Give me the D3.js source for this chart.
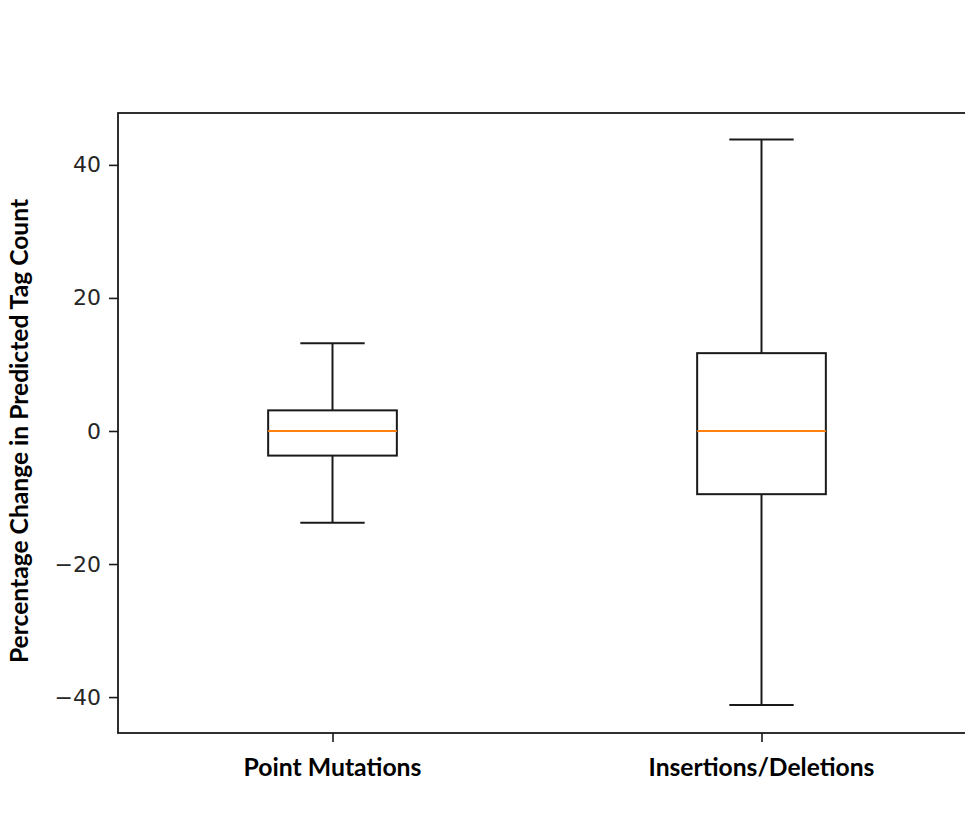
<!DOCTYPE html>
<html>
<head>
<meta charset="utf-8">
<script src="https://cdn.jsdelivr.net/npm/d3@7/dist/d3.min.js"></script>
<style>
  html, body { margin: 0; padding: 0; background: #fff; }
  svg { display: block; }
  .ytick text { font-family: "DejaVu Sans", Verdana, sans-serif; font-size: 22px; }
</style>
</head>
<body>
<svg id="chart" width="965" height="815"></svg>
<script>
// Box plot summary statistics per category (percentage change)
const categories  = ["Point Mutations", "Insertions/Deletions"];
const whiskerLow  = [-13.8, -41.2];
const q1          = [-3.7, -9.5];
const medians     = [0.0, 0.0];
const q3          = [3.1, 11.7];
const whiskerHigh = [13.2, 43.8];
const yTicks      = [-40, -20, 0, 20, 40];
const yLabel      = "Percentage Change in Predicted Tag Count";

(function draw() {
  const svg = d3.select("#chart");
  const plotL = 118, plotR = 976, plotT = 113, plotB = 733;

  const x = d3.scaleLinear().domain([0.5, 2.5]).range([plotL, plotR]);
  const y = d3.scaleLinear().domain([-45.4, 47.8]).range([plotB, plotT]);

  const boxW = x(1.15) - x(0.85);
  const capW = boxW / 2;
  const ink = "#1a1a1a";
  const labelFont = "Lato, 'Open Sans', sans-serif";

  const rows = categories.map((c, i) => ({
    name: c, pos: i + 1,
    lo: whiskerLow[i], q1: q1[i], med: medians[i], q3: q3[i], hi: whiskerHigh[i]
  }));

  // Y axis
  const yAxis = svg.append("g")
    .attr("class", "ytick")
    .attr("transform", `translate(${plotL},0)`)
    .call(d3.axisLeft(y).tickValues(yTicks).tickSize(9).tickPadding(8)
      .tickFormat(d => d < 0 ? "\u2212" + Math.abs(d) : String(d)));
  yAxis.attr("font-family", null).attr("font-size", null);
  yAxis.select(".domain").remove();
  yAxis.selectAll(".tick line").attr("stroke", ink).attr("stroke-width", 1.6);
  yAxis.selectAll(".tick text").attr("fill", "#262626");

  // X axis ticks; category labels are drawn separately below
  const xAxis = svg.append("g")
    .attr("transform", `translate(0,${plotB})`)
    .call(d3.axisBottom(x).tickValues(rows.map(r => r.pos)).tickSize(9)
      .tickFormat(""));
  xAxis.select(".domain").remove();
  xAxis.selectAll(".tick line").attr("stroke", ink).attr("stroke-width", 1.6);

  const xLabelWidths = [178, 226];
  rows.forEach((r, i) => {
    const t = svg.append("text")
      .attr("x", x(r.pos))
      .attr("y", 776)
      .attr("text-anchor", "middle")
      .style("font-family", labelFont)
      .style("font-weight", "bold")
      .style("font-size", "20px")
      .attr("fill", "#000")
      .text(r.name);
    const w = t.node().getComputedTextLength();
    t.style("font-size", (20 * xLabelWidths[i] / w).toFixed(2) + "px");
  });

  // Y axis title
  const yt = svg.append("text")
    .attr("transform", `translate(28,${(plotT + plotB) / 2 + 8}) rotate(-90)`)
    .attr("text-anchor", "middle")
    .style("font-family", labelFont)
    .style("font-weight", "bold")
    .style("font-size", "18px")
    .attr("fill", "#000")
    .text(yLabel);
  const yw = yt.node().getComputedTextLength();
  yt.style("font-size", (18 * 464 / yw).toFixed(2) + "px");

  // Boxes, whiskers, caps and medians
  const g = svg.append("g");
  rows.forEach(r => {
    const cx = x(r.pos);
    g.append("line").attr("x1", cx).attr("x2", cx)
      .attr("y1", y(r.q3)).attr("y2", y(r.hi))
      .attr("stroke", ink).attr("stroke-width", 2);
    g.append("line").attr("x1", cx).attr("x2", cx)
      .attr("y1", y(r.q1)).attr("y2", y(r.lo))
      .attr("stroke", ink).attr("stroke-width", 2);
    [r.hi, r.lo].forEach(v => {
      g.append("line").attr("x1", cx - capW / 2).attr("x2", cx + capW / 2)
        .attr("y1", y(v)).attr("y2", y(v))
        .attr("stroke", ink).attr("stroke-width", 2);
    });
    g.append("rect")
      .attr("x", cx - boxW / 2).attr("width", boxW)
      .attr("y", y(r.q3)).attr("height", y(r.q1) - y(r.q3))
      .attr("fill", "none").attr("stroke", ink).attr("stroke-width", 2);
    g.append("line").attr("x1", cx - boxW / 2).attr("x2", cx + boxW / 2)
      .attr("y1", y(r.med)).attr("y2", y(r.med))
      .attr("stroke", "#ff7f0e").attr("stroke-width", 2);
  });

  // Frame
  svg.append("rect")
    .attr("x", plotL).attr("y", plotT)
    .attr("width", plotR - plotL).attr("height", plotB - plotT)
    .attr("fill", "none").attr("stroke", ink).attr("stroke-width", 1.8);
})();
</script>
</body>
</html>
